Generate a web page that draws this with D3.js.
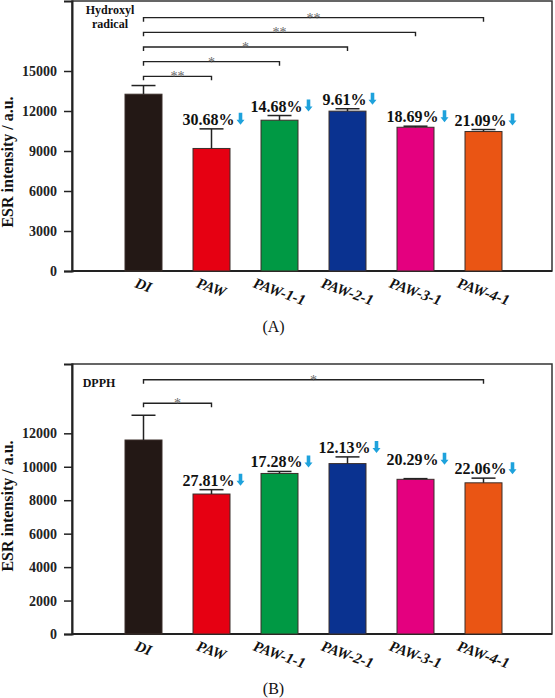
<!DOCTYPE html>
<html><head><meta charset="utf-8">
<script src="https://cdn.jsdelivr.net/npm/d3@7"></script>
<style>
html,body{margin:0;padding:0;background:#fff;}
svg{display:block;}
text{font-family:"Times New Roman","Liberation Serif",serif;}
</style></head>
<body>
<svg id="chart" width="555" height="698"></svg>
<script>
// ---- data ----
const categories = ["DI","PAW","PAW-1-1","PAW-2-1","PAW-3-1","PAW-4-1"];
const colors = ["#231815","#e60012","#009944","#0a3290","#e4007f","#ea5514"];

const valuesA = [13260, 9190, 11310, 11990, 10780, 10460];
const errorsA = [650, 1470, 350, 180, 80, 150];
const pctA = [null, "30.68%", "14.68%", "9.61%", "18.69%", "21.09%"];
const ticksA = [0, 3000, 6000, 9000, 12000, 15000];
const bracketsA = [
  {from:"DI", to:"PAW", level:14600, mark:"**"},
  {from:"DI", to:"PAW-1-1", level:15700, mark:"*"},
  {from:"DI", to:"PAW-2-1", level:16800, mark:"*"},
  {from:"DI", to:"PAW-3-1", level:17900, mark:"**"},
  {from:"DI", to:"PAW-4-1", level:19000, mark:"**"}
];

const valuesB = [11600, 8370, 9600, 10190, 9250, 9040];
const errorsB = [1480, 260, 120, 400, 40, 280];
const pctB = [null, "27.81%", "17.28%", "12.13%", "20.29%", "22.06%"];
const ticksB = [0, 2000, 4000, 6000, 8000, 10000, 12000];
const bracketsB = [
  {from:"DI", to:"PAW-4-1", level:15200, mark:"*"},
  {from:"DI", to:"PAW", level:13800, mark:"*"}
];

// ---- drawing ----
const svg = d3.select("#chart");
const x = d3.scaleBand().domain(categories).range([109.5, 517.5])
  .paddingInner(0.456).paddingOuter(0.228);
const cx = c => x(c) + x.bandwidth()/2;

function panel(o){
  const y = d3.scaleLinear().domain([0, o.yMax]).range([o.bottom, o.top]);
  const g = svg.append("g");

  // frame
  g.append("rect").attr("x", 72).attr("y", o.top).attr("width", 480)
    .attr("height", o.bottom - o.top).attr("fill","none")
    .attr("stroke","#333").attr("stroke-width",1.5);

  // axis
  const ax = g.append("g").attr("transform","translate(72,0)")
    .call(d3.axisLeft(y).tickValues(o.ticks).tickSize(8).tickPadding(7).tickFormat(d3.format("d")));
  ax.select(".domain").attr("stroke","#222").attr("stroke-width",2);
  ax.selectAll(".tick line").attr("stroke","#222").attr("stroke-width",1.5);
  ax.selectAll(".tick text").attr("font-family",'"Times New Roman","Liberation Serif",serif')
    .attr("font-size",14).attr("font-weight","bold").attr("fill","#222");
  g.append("line").attr("x1",72).attr("x2",552).attr("y1",o.bottom).attr("y2",o.bottom)
    .attr("stroke","#222").attr("stroke-width",2);

  // bars
  g.selectAll("rect.bar").data(categories).enter().append("rect").attr("class","bar")
    .attr("x", d => x(d)).attr("width", x.bandwidth())
    .attr("y", (d,i) => y(o.values[i])).attr("height", (d,i) => o.bottom - y(o.values[i]))
    .attr("fill", (d,i) => colors[i]).attr("stroke","#3a2e2a").attr("stroke-width",1);

  // error bars (upper only)
  categories.forEach((c,i) => {
    const top = y(o.values[i] + o.errors[i]);
    g.append("line").attr("x1",cx(c)).attr("x2",cx(c)).attr("y1",y(o.values[i])).attr("y2",top)
      .attr("stroke","#222").attr("stroke-width",1.5);
    g.append("line").attr("x1",cx(c)-12).attr("x2",cx(c)+12).attr("y1",top).attr("y2",top)
      .attr("stroke","#222").attr("stroke-width",1.5);
  });

  // percentage labels with arrows
  categories.forEach((c,i) => {
    if (!o.pct[i]) return;
    const by = y(o.values[i] + o.errors[i]) - 4 - (o.lift ? o.lift[i] : 0);
    const t = g.append("text").attr("x", cx(c) - 3).attr("y", by)
      .attr("text-anchor","middle").attr("font-size",16).attr("font-weight","bold")
      .attr("fill","#111").text(o.pct[i]);
    const w = t.node().getComputedTextLength();
    const ax0 = cx(c) - 3 + w/2 + 2;
    const p = d3.path();
    const top = by - 12, sw = 3.6, hw = 8, hh = 5;
    p.moveTo(ax0 + hw/2 - sw/2, top);
    p.lineTo(ax0 + hw/2 + sw/2, top);
    p.lineTo(ax0 + hw/2 + sw/2, top + 12 - hh);
    p.lineTo(ax0 + hw, top + 12 - hh);
    p.lineTo(ax0 + hw/2, top + 12);
    p.lineTo(ax0, top + 12 - hh);
    p.lineTo(ax0 + hw/2 - sw/2, top + 12 - hh);
    p.closePath();
    g.append("path").attr("d", p.toString()).attr("fill","#1ea2dc");
  });

  // significance brackets
  o.brackets.forEach(b => {
    const ly = y(b.level), x1 = cx(b.from), x2 = cx(b.to);
    g.append("path").attr("d", `M${x1},${ly+4}V${ly}H${x2}V${ly+4}`)
      .attr("fill","none").attr("stroke","#222").attr("stroke-width",1.4);
    g.append("text").attr("x",(x1+x2)/2).attr("y", ly + 5).attr("text-anchor","middle")
      .attr("font-size",14).attr("fill","#666").text(b.mark);
  });

  // x labels
  categories.forEach(c => {
    const t = g.append("text").attr("text-anchor","middle").attr("dy","0.35em")
      .attr("font-size",15).attr("font-weight","bold").attr("font-style","italic")
      .attr("fill","#111").text(c);
    const w = t.node().getComputedTextLength();
    t.attr("transform", `translate(${cx(c)},${o.bottom + 11 + w*0.171}) rotate(20)`);
  });

  // y title
  g.append("text").attr("transform", `translate(13,${o.titleY}) rotate(-90)`)
    .attr("text-anchor","middle").attr("font-size",16).attr("font-weight","bold")
    .attr("fill","#111").text("ESR intensity / a.u.");

  // panel name
  o.name.forEach((s,k) => {
    g.append("text").attr("x", o.nameX).attr("y", o.nameY + k*14).attr("text-anchor","middle")
      .attr("font-size",12).attr("font-weight","bold").attr("fill","#111").text(s);
  });

  // caption
  g.append("text").attr("x",273.5).attr("y",o.capY).attr("text-anchor","middle")
    .attr("font-size",16).attr("fill","#111").text(o.caption);
}

panel({top:1, bottom:271, yMax:20250, values:valuesA, errors:errorsA, pct:pctA, ticks:ticksA,
  brackets:bracketsA, titleY:162, name:["Hydroxyl","radical"], nameX:110, nameY:14,
  caption:"(A)", capY:332});
panel({top:364, bottom:634, yMax:16145, values:valuesB, errors:errorsB, pct:pctB, ticks:ticksB,
  brackets:bracketsB, titleY:506, name:["DPPH"], nameX:99, nameY:386.5,
  caption:"(B)", capY:694, lift:[0,0,0,0,10,0]});
</script>
</body></html>
